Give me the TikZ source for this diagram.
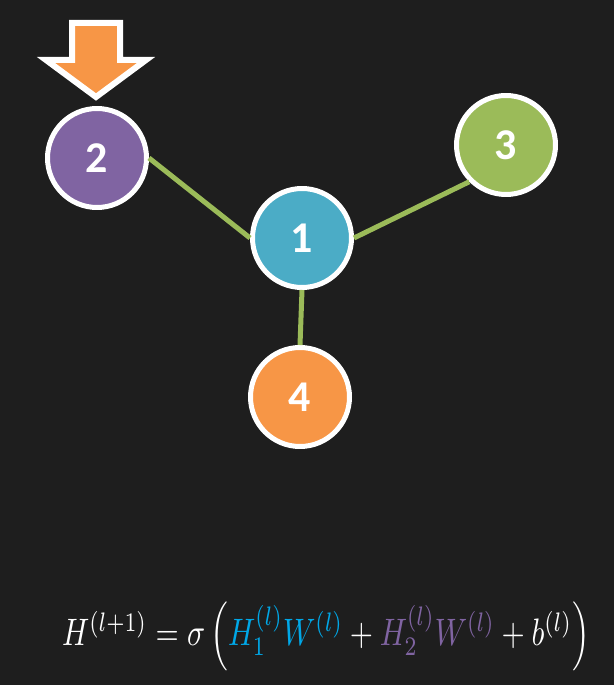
\documentclass[tikz,border=0pt]{standalone}
\usepackage{fontspec}
\usepackage{amsmath}
\usepackage{graphicx}
\usepackage{xcolor}
\usepackage{tikz}
\newfontfamily\digitfont{Carlito}
\definecolor{bgdark}{HTML}{1E1E1E}
\definecolor{nodepurple}{HTML}{8064A2}
\definecolor{nodeblue}{HTML}{4BACC6}
\definecolor{nodegreen}{HTML}{9BBB59}
\definecolor{nodeorange}{HTML}{F79646}
\definecolor{mathblue}{HTML}{00A8E8}
\definecolor{mathpurple}{HTML}{8064A2}
\begin{document}
\begin{tikzpicture}[x=0.02cm,y=-0.02cm,
      vertex/.style={circle,draw=white,line width=0.1cm,minimum size=1.98cm,
                     inner sep=0pt,text=white,font=\digitfont\bfseries\fontsize{25}{30}\selectfont},
      edge/.style={nodegreen,line width=0.1cm}]
    \fill[bgdark] (0,0) rectangle (614,685);
    \useasboundingbox (0,0) rectangle (614,685);
    % graph nodes
    \node[vertex,fill=nodeblue]   (n1) at(302,238){1};
    \node[vertex,fill=nodepurple] (n2) at(97,158){2};
    \node[vertex,fill=nodegreen]  (n3) at(506,145){3};
    \node[vertex,fill=nodeorange] (n4) at(300,397){4};
    \draw[edge] (n2.east) -- (n1.west);
    \draw[edge] (n1.east) -- (n3.south west);
    \draw[edge] (n1.south) -- (n4.north);
    % input arrow above node 2
    \draw[white,fill=nodeorange,line width=0.12cm,miter limit=10]
      (72,23) -- (120,23) -- (120,60) -- (146,60) -- (96,97) -- (46,60) -- (72,60) -- cycle;
    % update rule
    \node[text=white,inner sep=0pt] (rule) at(326,636)
      {\resizebox{10.56cm}{0.88cm}{$H^{(l+1)}=\sigma\left(\textcolor{mathblue}{H_1^{(l)}W^{(l)}}+\textcolor{mathpurple}{H_2^{(l)}W^{(l)}}+b^{(l)}\right)$}};
  \end{tikzpicture}
\end{document}
